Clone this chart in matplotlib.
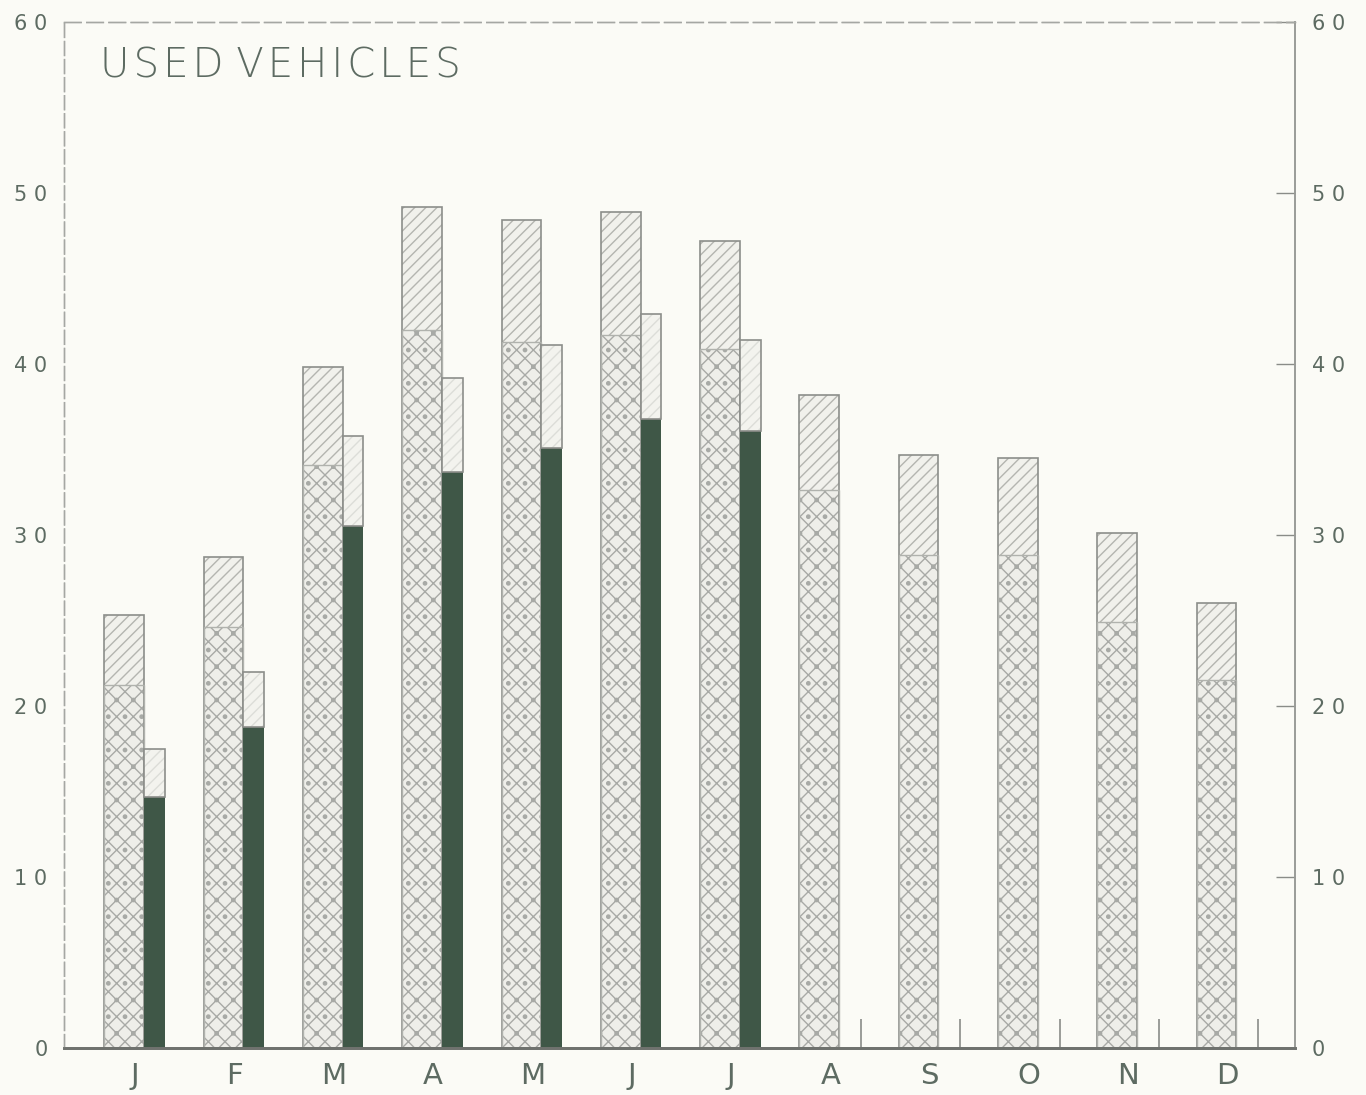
import numpy as np
import matplotlib.pyplot as plt

months = ["J", "F", "M", "A", "M", "J", "J", "A", "S", "O", "N", "D"]

# wide bar: lower (cross-hatched) part and total height
wide_lower = [21.2, 24.6, 34.1, 42.0, 41.3, 41.7, 40.9, 32.6, 28.8, 28.8, 24.9, 21.5]
wide_total = [25.3, 28.7, 39.8, 49.2, 48.4, 48.9, 47.2, 38.2, 34.7, 34.5, 30.1, 26.0]

# narrow bar (first seven months only): dark part and total height
narrow_dark = [14.7, 18.8, 30.5, 33.7, 35.1, 36.8, 36.1]
narrow_total = [17.5, 22.0, 35.8, 39.2, 41.1, 42.9, 41.4]

yticks = [0, 10, 20, 30, 40, 50, 60]
ytick_labels = ["0", "1 0", "2 0", "3 0", "4 0", "5 0", "6 0"]

bg = "#fbfbf6"
txt = "#5d6b62"
dark = "#3f5747"
hatch_col = "#a8aaa6"

plt.rcParams['hatch.linewidth'] = 1.0

fig = plt.figure(figsize=(13.66, 10.95), dpi=100, facecolor=bg)
ax = fig.add_axes([0.0469, 0.0429, 0.9011, 0.9371], facecolor=bg)

x = np.arange(len(months))
wide_w = 0.40
narrow_w = 0.21
wide_off = -0.31
narrow_off = 0.09

wide_upper = np.array(wide_total) - np.array(wide_lower)
narrow_upper = np.array(narrow_total) - np.array(narrow_dark)
xn = x[:len(narrow_dark)]

# wide bars: hatch layers
ax.bar(x + wide_off, wide_lower, wide_w, align='edge', color="#eeeee9",
       edgecolor=hatch_col, hatch="xx.", linewidth=0)
ax.bar(x + wide_off, wide_upper, wide_w, bottom=wide_lower, align='edge',
       color="#f1f1ec", edgecolor="#b4b5b0", hatch="///", linewidth=0)
ax.bar(x + wide_off, wide_total, wide_w, align='edge', fill=False,
       edgecolor="#8c8e8a", linewidth=1.2)
ax.bar(x + wide_off, wide_lower, wide_w, align='edge', fill=False,
       edgecolor="#b0b2ad", linewidth=1.0)

# narrow bars
ax.bar(xn + narrow_off, narrow_dark, narrow_w, align='edge', color=dark,
       linewidth=0)
ax.bar(xn + narrow_off, narrow_upper, narrow_w, bottom=narrow_dark, align='edge',
       color="#f3f3ee", edgecolor="#dcddd8", hatch="///", linewidth=0)
ax.bar(xn + narrow_off, narrow_upper, narrow_w, bottom=narrow_dark, align='edge',
       fill=False, edgecolor="#8c8e8a", linewidth=1.2)

# small marks on the base line for the later months
xm = x[len(narrow_dark):] + 0.31
ax.vlines(xm, 0, 1.7, color="#8a8c88", linewidth=1.2)

ax.set_xlim(-0.715, 11.68)
ax.set_ylim(0, 60)

ax.set_xticks(x)
ax.set_xticklabels(months)
ax.tick_params(axis='x', length=0, pad=10, labelsize=21, labelcolor=txt)
ax.set_yticks(yticks)
ax.set_yticklabels(ytick_labels)
ax.tick_params(axis='y', length=0, pad=12, labelsize=15, labelcolor=txt)

ax2 = ax.twinx()
ax2.set_ylim(0, 60)
ax2.set_yticks(yticks)
ax2.set_yticklabels(ytick_labels)
ax2.tick_params(axis='y', direction='in', length=14, width=1.0, color="#8a8c88",
                pad=12, labelsize=15, labelcolor=txt)

for a in (ax, ax2):
    a.spines['left'].set_color("#a5a7a3")
    a.spines['left'].set_linestyle((0, (10, 3)))
    a.spines['left'].set_linewidth(1.0)
    a.spines['top'].set_color("#a5a7a3")
    a.spines['top'].set_linestyle((0, (12, 4)))
    a.spines['top'].set_linewidth(1.0)
    a.spines['right'].set_color("#9a9c98")
    a.spines['right'].set_linewidth(1.2)
    a.spines['bottom'].set_color("#6f726e")
    a.spines['bottom'].set_linewidth(2.0)

title = "\u200a".join("USED") + " " + "\u200a".join("VEHICLES")
ax.text(0.029, 0.976, title, transform=ax.transAxes, fontsize=29,
        color=txt, ha='left', va='top', fontweight='light')

fig.savefig("out.png", dpi=100, facecolor=bg)
